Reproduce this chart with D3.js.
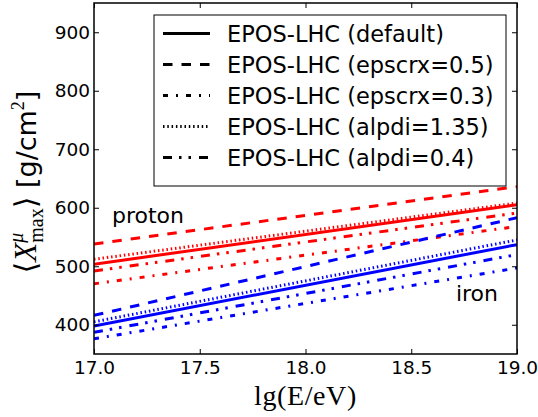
<!DOCTYPE html>
<html>
<head>
<meta charset="utf-8">
<script src="https://cdn.jsdelivr.net/npm/d3@7"></script>
<style>
  body { margin: 0; background: #fff; }
</style>
</head>
<body>
<div id="chart"></div>
<script>
// datos
const energies = [17, 19]
const models = ["EPOS-LHC (default)", "EPOS-LHC (epscrx=0.5)", "EPOS-LHC (epscrx=0.3)", "EPOS-LHC (alpdi=1.35)", "EPOS-LHC (alpdi=0.4)"]
const protonValues = [[503.5, 605], [538, 636], [470, 568], [512, 608], [492, 591]]
const ironValues = [[398, 537], [416, 583], [376, 497], [405, 545], [387, 520]]
const xTicks = [17, 17.5, 18, 18.5, 19]
const yTicks = [400, 500, 600, 700, 800, 900]

// estilos de línea para cada modelo
const dashes = [null, "9.5,9", "5,8,2,8", "1.5,2.8", "9,7,2.5,7,2.5,8"]

const width = 538
const height = 417
const margin = { top: 3, right: 21, left: 94, bottom: 63 }
const w = width - margin.left - margin.right
const h = height - margin.top - margin.bottom

const svg = d3.select("div#chart").append("svg")
    .attr("width", width).attr("height", height)
    .attr("font-family", "DejaVu Sans")

const x = d3.scaleLinear().domain([17, 19]).range([0, w])
const y = d3.scaleLinear().domain([350, 950]).range([h, 0])

const plot = svg.append("g").attr("transform", `translate(${margin.left}, ${margin.top})`)

svg.append("clipPath").attr("id", "clip").append("rect").attr("width", w).attr("height", h)

const line = d3.line().x((d, i) => x(energies[i])).y(d => y(d))
const lines = plot.append("g").attr("clip-path", "url(#clip)")

function drawSet(values, color) {
    values.forEach((v, i) => {
        lines.append("path")
            .attr("d", line(v))
            .attr("fill", "none")
            .attr("stroke", color)
            .attr("stroke-width", 3)
            .attr("stroke-dasharray", dashes[i])
    })
}
drawSet(protonValues, "#ff0000")
drawSet(ironValues, "#0000ff")

// ejes (ticks hacia dentro)
const xAxis = d3.axisBottom(x).tickValues(xTicks).tickFormat(d3.format(".1f")).tickSize(-5).tickPadding(7)
const yAxis = d3.axisLeft(y).tickValues(yTicks).tickSize(-5).tickPadding(4)
plot.append("g").attr("transform", `translate(0, ${h})`).call(xAxis)
plot.append("g").call(yAxis)
plot.append("g").call(d3.axisTop(x).tickValues(xTicks).tickSize(-5).tickFormat(""))
plot.append("g").attr("transform", `translate(${w}, 0)`).call(d3.axisRight(y).tickValues(yTicks).tickSize(-5).tickFormat(""))
plot.selectAll(".domain").remove()
plot.selectAll(".tick line").attr("stroke", "#000").attr("stroke-width", 1)
plot.selectAll(".tick text").attr("font-size", 18.5).attr("fill", "#000").attr("font-family", "DejaVu Sans")

plot.append("rect").attr("width", w).attr("height", h).attr("fill", "none").attr("stroke", "#000").attr("stroke-width", 1.5)

// textos
plot.append("text").attr("x", x(17.085)).attr("y", y(573.5)).attr("font-size", 22).text("proton")
plot.append("text").attr("x", x(18.711)).attr("y", y(441)).attr("font-size", 22).text("iron")

// etiqueta eje x
svg.append("text")
    .attr("x", margin.left + w / 2).attr("y", 405)
    .attr("text-anchor", "middle")
    .attr("font-family", "Liberation Serif")
    .attr("font-size", 28)
    .attr("letter-spacing", 0.6)
    .text("lg(E/eV)")

// etiqueta eje y
const yl = svg.append("text")
    .attr("transform", `translate(36, 182) rotate(-90)`)
    .attr("text-anchor", "middle")
    .attr("font-size", 27)
yl.append("tspan").attr("font-family", "DejaVu Sans").attr("font-size", 30).text("\u27E8")
yl.append("tspan").attr("font-family", "Liberation Serif").attr("font-style", "italic").attr("font-size", 31).text("X")
const mu = yl.append("tspan").attr("font-family", "Liberation Serif").attr("font-style", "italic").attr("font-size", 20).attr("dy", -13).text("\u03BC")
const muW = mu.node().getComputedTextLength()
yl.append("tspan").attr("font-family", "Liberation Serif").attr("font-size", 20).attr("dx", -muW).attr("dy", 20).text("max")
yl.append("tspan").attr("font-family", "DejaVu Sans").attr("font-size", 30).attr("dy", -7).text("\u27E9")
yl.append("tspan").attr("font-family", "DejaVu Sans").text(" [g/cm")
yl.append("tspan").attr("font-family", "Liberation Serif").attr("font-size", 18).attr("dy", -12).text("2")
yl.append("tspan").attr("font-family", "DejaVu Sans").attr("dy", 12).text("]")

// leyenda
const legend = svg.append("g").attr("transform", "translate(154, 15)")
legend.append("rect").attr("width", 352).attr("height", 171).attr("fill", "#fff").attr("stroke", "#000").attr("stroke-width", 1)
models.forEach((m, i) => {
    const yy = 18.5 + i * 31
    legend.append("line")
        .attr("x1", 9).attr("x2", 56).attr("y1", yy).attr("y2", yy)
        .attr("stroke", "#000").attr("stroke-width", 3)
        .attr("stroke-dasharray", dashes[i])
    legend.append("text").attr("x", 73).attr("y", yy).attr("dy", "0.36em").attr("font-size", 22.5).text(m)
})
</script>
</body>
</html>
